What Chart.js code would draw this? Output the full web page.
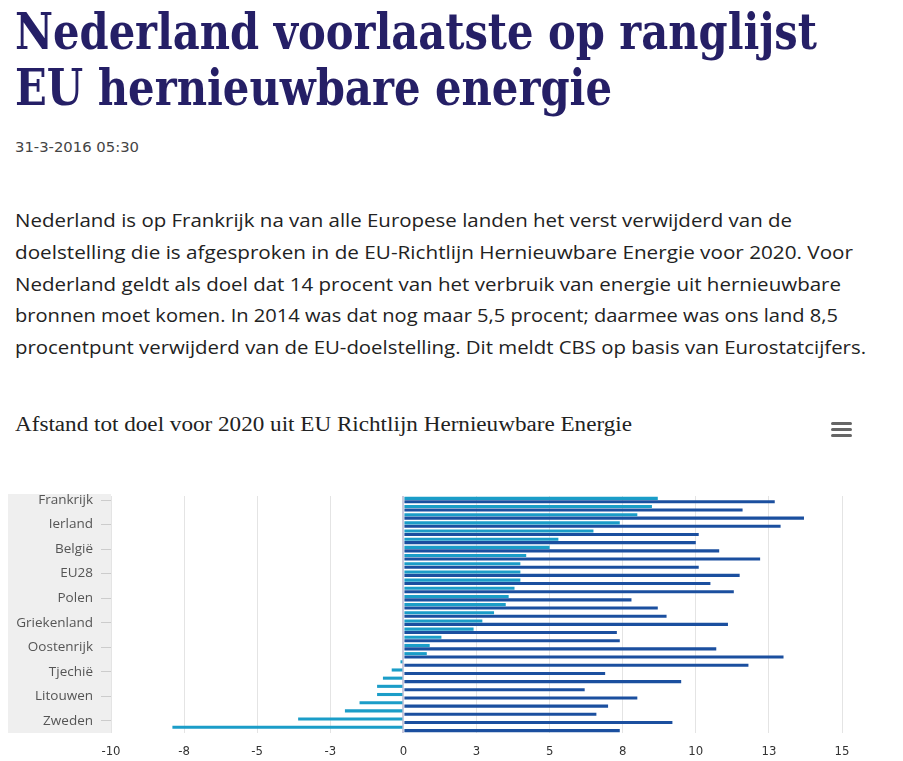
<!DOCTYPE html>
<html>
<head>
<meta charset="utf-8">
<script src="https://cdn.jsdelivr.net/npm/chart.js@4/dist/chart.umd.min.js"></script>
<style>
  html, body { margin: 0; padding: 0; background: #fff; }
  body { width: 903px; height: 761px; position: relative; overflow: hidden; }
  .line { position: absolute; left: 15px; white-space: nowrap; transform-origin: 0 50%; display: inline-block; }
  .h1 { font-family: "DejaVu Serif", serif; font-stretch: condensed; font-weight: bold; font-size: 50px; line-height: 50px; color: #251f66; }
  .date { font-family: "Liberation Sans Narrow", "DejaVu Sans Condensed", "Liberation Sans", sans-serif; font-size: 14px; line-height: 14px; color: #444; }
  .p { font-family: "Open Sans", "Noto Sans", sans-serif; font-size: 19px; line-height: 32px; color: #222; }
  .ct { font-family: "Liberation Serif", serif; font-size: 20.5px; line-height: 20px; color: #222; }
  .burger { position: absolute; left: 831px; width: 21px; height: 3px; background: #666; border-radius: 1.5px; }
  #chart { position: absolute; left: 0; top: 400px; }
</style>
</head>
<body>
<span class="line h1" data-w="802" style="top:7px">Nederland voorlaatste op ranglijst</span>
<span class="line h1" data-w="597" style="top:63px">EU hernieuwbare energie</span>
<span class="line date" data-w="124" style="top:140px">31-3-2016 05:30</span>
<span class="line p" data-w="777" style="top:204px">Nederland is op Frankrijk na van alle Europese landen het verst verwijderd van de</span>
<span class="line p" data-w="838" style="top:236px">doelstelling die is afgesproken in de EU-Richtlijn Hernieuwbare Energie voor 2020. Voor</span>
<span class="line p" data-w="826" style="top:268px">Nederland geldt als doel dat 14 procent van het verbruik van energie uit hernieuwbare</span>
<span class="line p" data-w="823" style="top:299px">bronnen moet komen. In 2014 was dat nog maar 5,5 procent; daarmee was ons land 8,5</span>
<span class="line p" data-w="851" style="top:331px">procentpunt verwijderd van de EU-doelstelling. Dit meldt CBS op basis van Eurostatcijfers.</span>
<span class="line ct" data-w="617" style="top:414px">Afstand tot doel voor 2020 uit EU Richtlijn Hernieuwbare Energie</span>
<div class="burger" style="top:422px"></div>
<div class="burger" style="top:428px"></div>
<div class="burger" style="top:434px"></div>
<canvas id="chart" width="903" height="361"></canvas>
<script>
// ---- data ----
const categories = ['Frankrijk','Nederland','Verenigd Koninkrijk','Ierland','Luxemburg','Malta','België','Duitsland','Cyprus','EU28','Portugal','Spanje','Polen','Hongarije','Slovenië','Griekenland','Slowakije','Letland','Oostenrijk','Denemarken','Italië','Tjechië','Finland','Roemenië','Litouwen','Estland','Bulgarije','Zweden','Kroatië'];
const afstand2014 = [8.7, 8.5, 8.0, 7.4, 6.5, 5.3, 5.0, 4.2, 4.0, 4.0, 4.0, 3.8, 3.6, 3.5, 3.1, 2.7, 2.4, 1.3, 0.9, 0.8, -0.1, -0.4, -0.7, -0.9, -0.9, -1.5, -2.0, -3.6, -7.9];
const afstandStart = [12.7, 11.6, 13.7, 12.9, 10.1, 10.0, 10.8, 12.2, 10.1, 11.5, 10.5, 11.3, 7.8, 8.7, 9.0, 11.1, 7.3, 7.4, 10.7, 13.0, 11.8, 6.9, 9.5, 6.2, 8.0, 7.0, 6.6, 9.2, 7.4];
const xTickLabels = ['-10','-8','-5','-3','0','3','5','8','10','13','15'];

// fit text lines to measured widths
document.querySelectorAll('.line').forEach(el => {
  const w = el.getBoundingClientRect().width;
  el.style.transform = 'scaleX(' + (parseFloat(el.dataset.w) / w) + ')';
});

const bandPlugin = {
  id: 'band',
  beforeDraw(chart) {
    const c = chart.ctx, a = chart.chartArea;
    c.save();
    c.fillStyle = '#efefef';
    c.fillRect(8, a.top - 2, a.left - 8, a.bottom - a.top + 2);
    c.restore();
  }
};

new Chart(document.getElementById('chart'), {
  type: 'bar',
  data: {
    labels: categories,
    datasets: [
      { label: 'Afstand tot doel 2014', data: afstand2014, backgroundColor: '#1b9dc8', categoryPercentage: 0.84, barPercentage: 0.9 },
      { label: 'Afstand tot doel eerder', data: afstandStart, backgroundColor: '#1b4f9f', categoryPercentage: 0.84, barPercentage: 0.9 }
    ]
  },
  options: {
    indexAxis: 'y',
    responsive: false,
    devicePixelRatio: 1,
    animation: false,
    layout: { padding: { top: 96, left: 8, right: 61, bottom: 0 } },
    plugins: { legend: { display: false }, tooltip: { enabled: false }, title: { display: false } },
    scales: {
      x: {
        min: -10, max: 15,
        afterFit(s) { s.height = 28; },
        afterBuildTicks(s) { s.ticks = xTickLabels.map((t, i) => ({ value: -10 + 2.5 * i })); },
        ticks: {
          padding: 11,
          color: '#333',
          font: { family: '"Liberation Sans Narrow", "DejaVu Sans Condensed", sans-serif', size: 13 },
          callback: (v, i) => xTickLabels[i]
        },
        grid: {
          drawTicks: false,
          color: ctx => (ctx.tick && ctx.tick.value === 0) ? '#c9c9dc' : '#e4e4e4',
          lineWidth: ctx => (ctx.tick && ctx.tick.value === 0) ? 2 : 1
        },
        border: { display: false }
      },
      y: {
        afterFit(s) { s.width = 103; },
        ticks: {
          autoSkip: false,
          padding: 8,
          color: '#555',
          font: { family: '"Open Sans", sans-serif', size: 13.5 },
          callback: (v, i) => (i % 3 === 0 ? categories[i] : '')
        },
        grid: {
          offset: false,
          drawOnChartArea: false,
          drawTicks: true,
          tickLength: 10,
          color: ctx => (ctx.index % 3 === 0 ? '#cccccc' : 'rgba(0,0,0,0)')
        },
        border: { display: false }
      }
    }
  },
  plugins: [bandPlugin]
});
</script>
</body>
</html>
